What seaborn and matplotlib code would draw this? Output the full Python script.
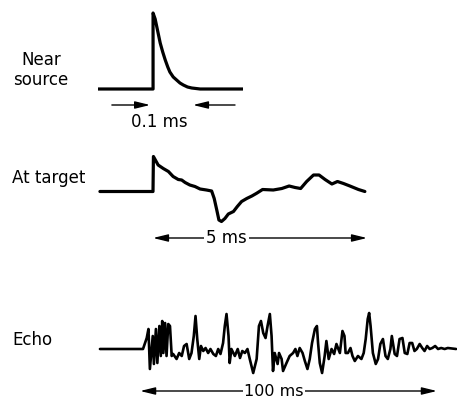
import matplotlib
matplotlib.use("Agg")
import matplotlib.pyplot as plt
import seaborn as sns
import pandas as pd

# -----------------------------
# Waveforms
# time in ms, amplitude in arbitrary units (0 = baseline)
# -----------------------------
near_t = [-0.131, 0.0, 0.0, 0.005, 0.009, 0.013, 0.017, 0.023, 0.029, 0.035, 0.040, 0.048,
          0.056, 0.064, 0.072, 0.082, 0.092, 0.112, 0.214]
near_a = [0, 0, 76, 70, 62, 54, 46, 37, 29, 22, 17, 12, 9, 6, 4, 2, 1, 0, 0]

target_t = [-1.24, 0.0, 0.01, 0.12, 0.24, 0.36, 0.47, 0.59, 0.67, 0.75, 0.86, 0.98, 1.10,
            1.25, 1.37, 1.43, 1.49, 1.54, 1.60, 1.68, 1.76, 1.88, 1.97,
            2.07, 2.19, 2.31, 2.42, 2.56, 2.81, 3.01, 3.18, 3.32, 3.45,
            3.59, 3.75, 3.88, 4.02, 4.18, 4.31, 4.45, 4.60, 4.80, 4.95]
target_a = [0, 0, 35, 26.5, 23, 20, 15, 12, 11.5, 9, 6.5, 5, 2.5,
            1.5, 0.5, -7, -18.5, -28.5, -30, -27, -22.5, -20, -15,
            -10, -7, -4.5, -1.8, 2, 1.5, 3, 5.5, 4, 3,
            10, 16.5, 16.5, 12, 7.5, 10, 8, 5.5, 2, 0]

echo_t = [-15.0, 0.0, 1.3, 1.9, 2.4, 3.4, 3.8, 4.5, 5.0, 5.7, 6.2, 6.7, 7.1, 7.7, 8.2, 8.8,
          9.4, 10.0, 10.5, 11.7, 12.6, 13.5, 14.3, 15.2, 16.1, 16.9, 17.7, 18.3, 18.9, 19.6,
          20.2, 21.0, 21.8, 22.7, 23.5, 24.5, 25.4, 26.2, 27.0, 27.9, 28.5, 29.1, 29.8, 30.2,
          30.8, 32.0, 33.0, 33.8, 34.6, 35.5, 36.4, 37.2, 38.4, 39.6, 40.4, 41.1, 41.9, 42.7,
          43.4, 44.2, 44.8, 45.3, 45.9, 46.9, 47.4, 48.3, 48.8, 50.0, 51.1, 52.3, 53.1, 53.8,
          54.6, 55.6, 56.4, 57.3, 58.1, 58.9, 59.9, 60.6, 61.0, 61.6, 62.4, 63.3, 63.9, 64.7,
          65.7, 66.6, 67.4, 68.6, 69.5, 70.2, 70.6, 71.4, 72.3, 73.0, 73.8, 74.9, 76.1, 76.9,
          77.6, 78.3, 78.8, 79.3, 80.1, 81.1, 81.9, 82.7, 83.6, 84.5, 85.3, 86.2, 86.7, 87.7,
          88.5, 89.4, 90.4, 91.2, 92.1, 92.9, 93.8, 94.6, 95.4, 96.4, 97.3, 98.1, 99.0, 99.9,
          100.8, 101.8, 102.8, 103.9, 105.1, 106.2, 109.1]
echo_a = [0, 0, 11, 20, -20, 13, -15, 20, -14, 23, -7, 28, -4, 26, -7, 25,
          23, -7, -5, -10, -4, -7, 3, 5, -10, -4, 13, 33, 10, -10,
          3, -2, 1, -4, 0, -5, -7, 0, -5, 6, 23, 35, 13, -14,
          0, -7, 0, -9, -2, -4, 0, -10, -24, -10, 23, 28, 16, 11,
          23, 35, 13, -22, -4, -15, -4, -10, -22, -14, -7, -4, 0, -7,
          1, -4, -12, -20, -10, 6, 20, 23, 6, -14, -24, -7, 8, -10,
          0, -5, 5, -4, 18, 13, -4, -4, 1, -7, -12, -7, -10, -4,
          10, 30, 36, 23, -4, -15, -10, 5, 10, -7, -10, 0, 13, -5,
          -7, 10, 11, -4, -5, 6, 6, -2, 0, 5, 1, -2, 3, 0,
          1, 3, 0, 1, 0, 1, 0]

panel_labels = ["Near\nsource", "At target", "Echo"]
scale_labels = ["0.1 ms", "5 ms", "100 ms"]

W, H = 457, 400
sns.set_style("white")
plt.rcParams["font.family"] = ["DejaVu Sans"]
plt.rcParams["text.color"] = "black"
fig = plt.figure(figsize=(W / 100, H / 100), dpi=100)


def px_axes(x0, y0, x1, y1):
    # axes box given in pixel coords of the figure (y from top)
    ax = fig.add_axes([x0 / W, 1 - y1 / H, (x1 - x0) / W, (y1 - y0) / H])
    ax.set_axis_off()
    return ax


def trace(ax, t, a, lw):
    df = pd.DataFrame({"t": t, "a": a})
    sns.lineplot(data=df, x="t", y="a", ax=ax, color="black", linewidth=lw,
                 sort=False, estimator=None)


head = "-|>,head_length=0.9,head_width=0.22"
dhead = "<|-|>,head_length=0.9,head_width=0.22"
arrow_kw = dict(color="black", lw=1.0, shrinkA=0, shrinkB=0, mutation_scale=10)

# -----------------------------
# Near source
# -----------------------------
ax1 = px_axes(98, 8, 243, 125)
trace(ax1, near_t, near_a, 2.3)
ax1.set_xlim(-0.131, 0.214)
ax1.set_ylim(-36, 81)
ax1.annotate("", xy=(-0.007, -16), xytext=(-0.098, -16),
             arrowprops=dict(arrowstyle=head, **arrow_kw), annotation_clip=False)
ax1.annotate("", xy=(0.095, -16), xytext=(0.195, -16),
             arrowprops=dict(arrowstyle=head, **arrow_kw), annotation_clip=False)
ax1.text(0.014, -32.7, scale_labels[0], ha="center", va="center", fontsize=12,
         color="black", clip_on=False)

# -----------------------------
# At target
# -----------------------------
ax2 = px_axes(98, 140, 370, 250)
trace(ax2, target_t, target_a, 2.3)
ax2.set_xlim(-1.285, 5.07)
ax2.set_ylim(-58.5, 51.5)
ax2.annotate("", xy=(5.0, -46.5), xytext=(0.0, -46.5),
             arrowprops=dict(arrowstyle=dhead, **arrow_kw), annotation_clip=False)
ax2.text(1.71, -46.5, scale_labels[1], ha="center", va="center", fontsize=12,
         color="black", bbox=dict(facecolor="white", edgecolor="none", pad=1.5),
         clip_on=False)

# -----------------------------
# Echo
# -----------------------------
ax3 = px_axes(98, 300, 457, 400)
trace(ax3, echo_t, echo_a, 1.9)
ax3.set_xlim(-15.68, 109.41)
ax3.set_ylim(-51, 49)
ax3.annotate("", xy=(102.4, -42), xytext=(-1.0, -42),
             arrowprops=dict(arrowstyle=dhead, **arrow_kw), annotation_clip=False)
ax3.text(45.6, -42.5, scale_labels[2], ha="center", va="center", fontsize=11.5,
         color="black", bbox=dict(facecolor="white", edgecolor="none", pad=1.0),
         clip_on=False)

# -----------------------------
# Row labels
# -----------------------------
fig.text(41 / W, 1 - 70 / H, panel_labels[0], ha="center", va="center",
         fontsize=12, linespacing=1.2, color="black")
fig.text(49 / W, 1 - 178 / H, panel_labels[1], ha="center", va="center",
         fontsize=12, color="black")
fig.text(32 / W, 1 - 340 / H, panel_labels[2], ha="center", va="center",
         fontsize=12, color="black")

fig.savefig("out.png", dpi=100, facecolor="white")
